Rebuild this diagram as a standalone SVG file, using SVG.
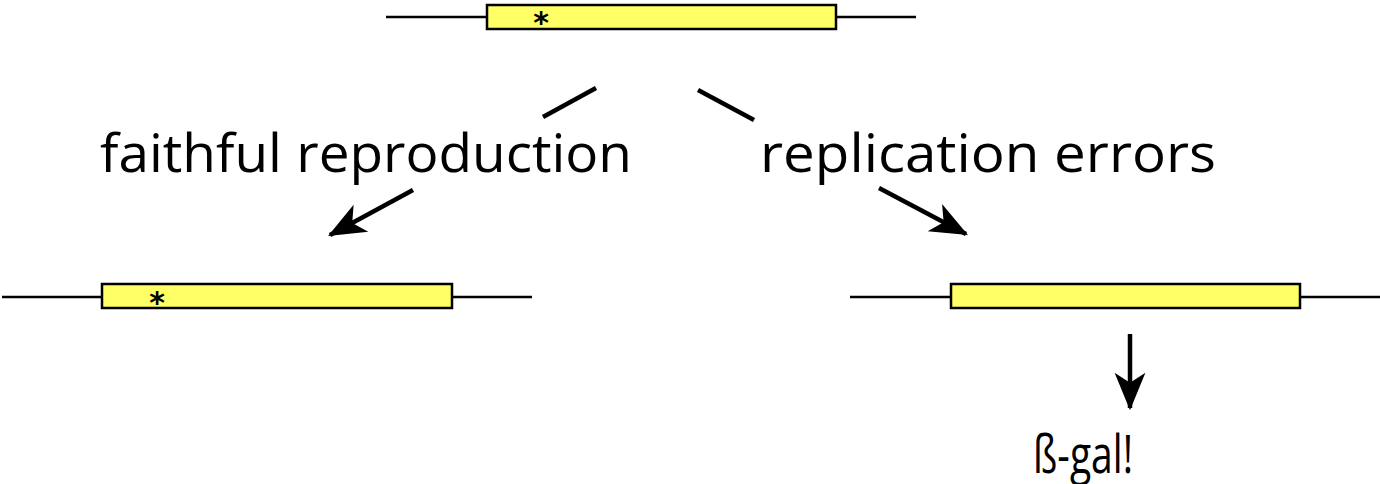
<svg xmlns="http://www.w3.org/2000/svg" width="1380" height="484" viewBox="0 0 1380 484">
<style>
.dna{stroke:#000;stroke-width:2.5;fill:none}
.box{fill:#ffff66;stroke:#000;stroke-width:2.5}
.star{font-family:"DejaVu Sans",sans-serif;font-weight:bold;font-size:30px;fill:#000}
.lbl{font-family:"Open Sans","Liberation Sans",sans-serif;font-size:53px;fill:#000}
.conn{stroke:#000;stroke-width:4.5;fill:none}
</style>
<defs>
<marker id="ah" markerUnits="userSpaceOnUse" markerWidth="44" markerHeight="44" viewBox="-36 -16 40 32" refX="0" refY="0" orient="auto">
<path d="M2,0 L-32,-14 L-23,0 L-32,14 Z" fill="#000"/>
</marker>
</defs>
<rect width="1380" height="484" fill="#fff"/>
<g id="gene-top">
<line class="dna" x1="386" y1="17" x2="916" y2="17"/>
<rect class="box" x="487" y="5" width="349" height="24"/>
<text class="star" x="541" y="33" text-anchor="middle">*</text>
</g>
<g id="gene-left">
<line class="dna" x1="2" y1="297" x2="532" y2="297"/>
<rect class="box" x="102" y="284" width="350" height="24"/>
<text class="star" x="157" y="313" text-anchor="middle">*</text>
</g>
<g id="gene-right">
<line class="dna" x1="850" y1="297" x2="1380" y2="297"/>
<rect class="box" x="951" y="284" width="349" height="24"/>
</g>
<g id="label-faithful">
<text class="lbl" x="100" y="172" textLength="532" lengthAdjust="spacingAndGlyphs">faithful reproduction</text>
</g>
<g id="label-errors">
<text class="lbl" x="760" y="172" textLength="456" lengthAdjust="spacingAndGlyphs">replication errors</text>
</g>
<g id="label-bgal">
<text class="lbl" x="1033" y="473" font-size="62" textLength="100" lengthAdjust="spacingAndGlyphs">ß-gal!</text>
</g>
<g id="connectors">
<line class="conn" x1="596" y1="88" x2="543" y2="117"/>
<line class="conn" x1="413" y1="190" x2="330" y2="235" marker-end="url(#ah)"/>
<line class="conn" x1="698" y1="90" x2="754" y2="120"/>
<line class="conn" x1="879" y1="188" x2="966" y2="234" marker-end="url(#ah)"/>
<line class="conn" x1="1130" y1="334" x2="1130" y2="408" marker-end="url(#ah)"/>
</g>
</svg>
